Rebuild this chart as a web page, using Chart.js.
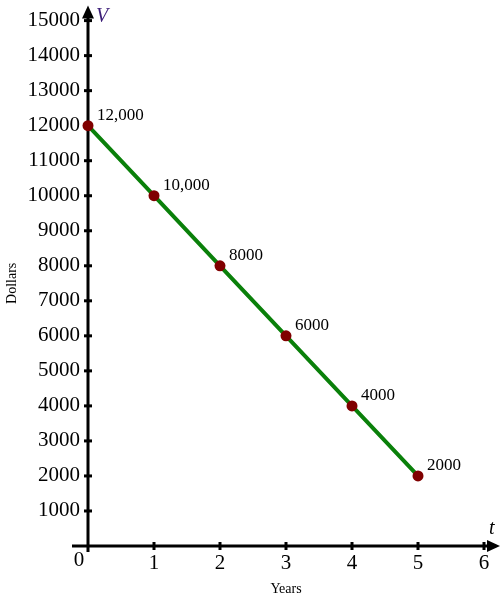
<!DOCTYPE html>
<html>
<head>
<meta charset="utf-8">
<script src="https://cdn.jsdelivr.net/npm/chart.js@4/dist/chart.umd.min.js"></script>
<style>
  html, body { margin: 0; padding: 0; background: #fff; }
  #wrap { width: 502px; height: 599px; }
</style>
</head>
<body>
<div id="wrap"><canvas id="myChart"></canvas></div>
<script>
// values
const years = [0, 1, 2, 3, 4, 5];
const dollars = [12000, 10000, 8000, 6000, 4000, 2000];
const pointLabels = ['12,000', '10,000', '8000', '6000', '4000', '2000'];
const xTicks = [1, 2, 3, 4, 5, 6];
const yTicks = [1000, 2000, 3000, 4000, 5000, 6000, 7000, 8000, 9000, 10000, 11000, 12000, 13000, 14000, 15000];

const serif = '"Liberation Serif", "DejaVu Serif", serif';

const axesPlugin = {
    id: 'axesPlugin',
    beforeDatasetsDraw(chart) {
        const c = chart.ctx;
        const xs = chart.scales.x;
        const ys = chart.scales.y;
        const x0 = xs.getPixelForValue(0);
        const y0 = ys.getPixelForValue(0);
        const xEnd = xs.getPixelForValue(6) + 13;
        const yTop = ys.getPixelForValue(15000) - 12;

        c.save();
        c.strokeStyle = '#000';
        c.fillStyle = '#000';
        c.lineWidth = 3;

        // x axis
        c.beginPath();
        c.moveTo(x0 - 16, y0);
        c.lineTo(xEnd - 4, y0);
        c.stroke();
        c.beginPath();
        c.moveTo(xEnd + 3, y0);
        c.lineTo(xEnd - 10, y0 - 6);
        c.lineTo(xEnd - 10, y0 + 6);
        c.closePath();
        c.fill();

        // y axis
        c.beginPath();
        c.moveTo(x0, y0 + 6);
        c.lineTo(x0, yTop + 4);
        c.stroke();
        c.beginPath();
        c.moveTo(x0, yTop - 3);
        c.lineTo(x0 - 6, yTop + 10);
        c.lineTo(x0 + 6, yTop + 10);
        c.closePath();
        c.fill();

        // tick marks
        xTicks.forEach(function (v) {
            const px = xs.getPixelForValue(v);
            c.beginPath();
            c.moveTo(px, y0 - 4);
            c.lineTo(px, y0 + 4);
            c.stroke();
        });
        yTicks.forEach(function (v) {
            const py = ys.getPixelForValue(v);
            c.beginPath();
            c.moveTo(x0 - 4, py);
            c.lineTo(x0 + 4, py);
            c.stroke();
        });

        // origin label and axis letters
        c.font = '21px ' + serif;
        c.textAlign = 'center';
        c.textBaseline = 'middle';
        c.fillText('0', x0 - 9, y0 + 14);

        c.font = 'italic 20px ' + serif;
        c.fillStyle = '#3c1e78';
        c.textAlign = 'left';
        c.fillText('V', x0 + 8, yTop + 8);
        c.fillStyle = '#000';
        c.fillText('t', xEnd - 8, y0 - 17);
        c.restore();
    },
    afterDraw(chart) {
        const c = chart.ctx;
        const meta = chart.getDatasetMeta(0);
        c.save();
        c.fillStyle = '#000';
        c.font = '17px ' + serif;
        c.textAlign = 'left';
        c.textBaseline = 'middle';
        meta.data.forEach(function (pt, i) {
            c.fillText(pointLabels[i], pt.x + 9, pt.y - 10);
        });
        c.restore();
    }
};

const ctx = document.getElementById('myChart');

new Chart(ctx, {
    type: 'scatter',
    data: {
        datasets: [
            {
                data: years.map(function (t, i) { return { x: t, y: dollars[i] }; }),
                showLine: true,
                clip: false,
                borderColor: '#0a800a',
                borderWidth: 4,
                pointRadius: 5.5,
                pointBackgroundColor: '#800000',
                pointBorderColor: '#800000',
                pointBorderWidth: 0
            }
        ]
    },
    options: {
        responsive: true,
        maintainAspectRatio: false,
        animation: false,
        layout: {
            padding: { top: 19.5, right: 18, left: 0, bottom: 0 }
        },
        scales: {
            x: {
                type: 'linear',
                min: 0,
                max: 6,
                grid: { display: false, drawTicks: false },
                border: { display: false },
                afterBuildTicks: function (scale) {
                    scale.ticks = xTicks.map(function (v) { return { value: v }; });
                },
                afterFit: function (scale) { scale.height = 53; },
                ticks: {
                    padding: 5,
                    color: '#000',
                    font: { family: serif, size: 21 },
                    callback: function (v) { return String(v); }
                },
                title: {
                    display: true,
                    text: 'Years',
                    color: '#000',
                    padding: 1,
                    font: { family: serif, size: 14 }
                }
            },
            y: {
                min: 0,
                max: 15000,
                grid: { display: false, drawTicks: false },
                border: { display: false },
                afterBuildTicks: function (scale) {
                    scale.ticks = yTicks.map(function (v) { return { value: v }; });
                },
                afterFit: function (scale) { scale.width = 88; },
                ticks: {
                    padding: 8,
                    color: '#000',
                    font: { family: serif, size: 21 },
                    callback: function (v) { return String(v); }
                },
                title: {
                    display: true,
                    text: 'Dollars',
                    color: '#000',
                    padding: 4,
                    font: { family: serif, size: 14 }
                }
            }
        },
        plugins: {
            legend: { display: false },
            tooltip: { enabled: false }
        }
    },
    plugins: [axesPlugin]
});
</script>
</body>
</html>
